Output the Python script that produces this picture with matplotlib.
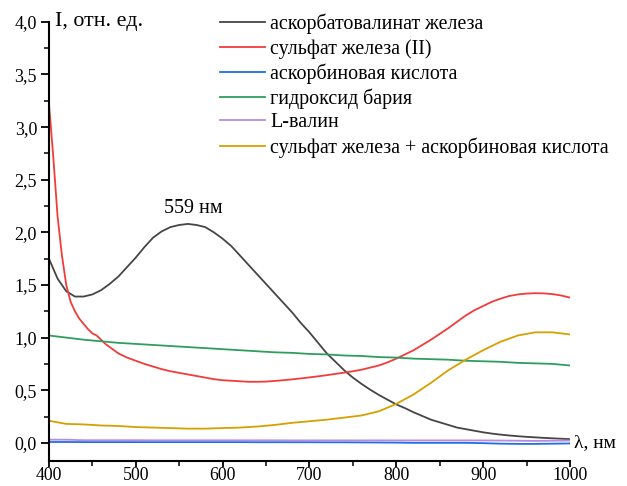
import matplotlib
matplotlib.use("Agg")
import matplotlib.pyplot as plt
from matplotlib.ticker import MultipleLocator, FuncFormatter

plt.rcParams['font.family'] = ['Liberation Serif', 'DejaVu Serif']

# --- данные спектров ---
wl_10 = list(range(400, 1001, 10))
wl_20 = list(range(400, 1001, 20))

askorbatovalinat = [1.75, 1.56, 1.44, 1.39, 1.39, 1.41, 1.45, 1.51, 1.58, 1.67,
                     1.76, 1.86, 1.95, 2.01, 2.05, 2.07, 2.08, 2.07, 2.05, 2.00,
                     1.94, 1.87, 1.78, 1.69, 1.60, 1.51, 1.42, 1.33, 1.24, 1.14,
                     1.05, 0.95, 0.85, 0.77, 0.69, 0.62, 0.56, 0.505, 0.455, 0.41,
                     0.365, 0.33, 0.29, 0.255, 0.22, 0.195, 0.17, 0.145, 0.13, 0.115,
                     0.10, 0.088, 0.078, 0.07, 0.063, 0.057, 0.052, 0.047, 0.043, 0.039,
                     0.035]

wl_sulfat = [400, 405, 410, 415, 420, 425, 430, 435, 440, 445, 450, 455, 460, 465, 470,
             480, 490, 500, 510, 520, 530, 540, 550, 560, 570, 580, 590, 600, 610, 620,
             630, 640, 650, 660, 670, 680, 690, 700, 710, 720, 730, 740, 750, 760, 770,
             780, 790, 800, 810, 820, 830, 840, 850, 860, 870, 880, 890, 900, 910, 920,
             930, 940, 950, 960, 970, 980, 990, 1000]
sulfat = [3.23, 2.72, 2.15, 1.78, 1.50, 1.34, 1.25, 1.18, 1.13, 1.08, 1.04, 1.02, 0.98, 0.94, 0.91,
          0.85, 0.81, 0.78, 0.75, 0.725, 0.70, 0.68, 0.665, 0.65, 0.635, 0.62, 0.605, 0.595, 0.59, 0.585,
          0.58, 0.58, 0.582, 0.588, 0.595, 0.603, 0.612, 0.622, 0.632, 0.643, 0.655, 0.667, 0.68, 0.695, 0.715,
          0.735, 0.765, 0.80, 0.84, 0.88, 0.93, 0.98, 1.035, 1.09, 1.15, 1.21, 1.26, 1.30, 1.34, 1.37,
          1.395, 1.41, 1.418, 1.422, 1.42, 1.413, 1.40, 1.38]

askorbinovaya = [0.008, 0.008, 0.007, 0.007, 0.007, 0.007, 0.007, 0.007, 0.007, 0.007, 0.007,
                 0.007, 0.006, 0.006, 0.006, 0.006, 0.005, 0.005, 0.004, 0.003, 0.002, 0.0,
                 0.0, 0.0, 0.0, -0.003, -0.008, -0.01, -0.01, -0.008, -0.006]

gidroksid = [1.02, 1.00, 0.98, 0.965, 0.95, 0.94, 0.93, 0.92, 0.91, 0.90, 0.89,
             0.88, 0.87, 0.86, 0.855, 0.845, 0.84, 0.83, 0.825, 0.815, 0.81, 0.80,
             0.795, 0.79, 0.78, 0.775, 0.77, 0.76, 0.755, 0.75, 0.735]

valin = [0.03, 0.03, 0.025, 0.025, 0.025, 0.025, 0.024, 0.024, 0.024, 0.024, 0.024,
         0.024, 0.024, 0.024, 0.023, 0.023, 0.023, 0.023, 0.023, 0.023, 0.023, 0.023,
         0.023, 0.023, 0.023, 0.023, 0.022, 0.02, 0.018, 0.02, 0.022]

smes = [0.21, 0.18, 0.175, 0.165, 0.16, 0.15, 0.145, 0.14, 0.135, 0.135, 0.14,
        0.145, 0.155, 0.17, 0.19, 0.205, 0.22, 0.24, 0.26, 0.30, 0.37, 0.46,
        0.57, 0.69, 0.79, 0.88, 0.96, 1.02, 1.05, 1.05, 1.03]

labels = ["аскорбатовалинат железа", "сульфат железа (II)", "аскорбиновая кислота",
          "гидроксид бария", "L-валин", "сульфат железа + аскорбиновая кислота"]
colors = ["#454545", "#f23b3b", "#1f6fe6", "#2e9e5e", "#b68be3", "#d6a000"]

# --- рисунок ---
fig = plt.figure(figsize=(6.27, 4.86), dpi=100)
ax = fig.add_axes([0.078, 0.052, 0.831, 0.903])

series = [(wl_10, askorbatovalinat), (wl_sulfat, sulfat), (wl_20, askorbinovaya),
          (wl_20, gidroksid), (wl_20, valin), (wl_20, smes)]
for (x, y), lab, c in zip(series, labels, colors):
    ax.plot(x, y, color=c, lw=1.3, label=lab)

ax.set_xlim(400, 1000)
ax.set_ylim(-0.17, 4.0)

for s in ("top", "right"):
    ax.spines[s].set_visible(False)
ax.spines["left"].set_linewidth(1.5)
ax.spines["bottom"].set_linewidth(1.5)

ax.xaxis.set_major_locator(MultipleLocator(100))
ax.xaxis.set_minor_locator(MultipleLocator(50))
ax.yaxis.set_major_locator(MultipleLocator(0.5))
ax.yaxis.set_minor_locator(MultipleLocator(0.25))
ax.yaxis.set_major_formatter(FuncFormatter(lambda v, p: f"{v:.1f}".replace(".", ",")))
ax.tick_params(which="major", direction="out", length=6, width=1.3, labelsize=13)
ax.tick_params(which="minor", direction="out", length=3.5, width=1.1)
ax.tick_params(axis="x", which="major", length=4.5, pad=0, labelsize=12.8)
ax.tick_params(axis="y", which="major", pad=2.5)

ax.text(0.012, 1.0, "I, отн. ед.", transform=ax.transAxes, fontsize=15.8,
        ha="left", va="center")
ax.text(1.008, 0.0, "λ, нм", transform=ax.get_yaxis_transform(), fontsize=14,
        ha="left", va="center")
ax.text(566, 2.23, "559 нм", fontsize=14.5, ha="center", va="center")

ax.legend(loc="upper left", bbox_to_anchor=(0.338, 0.988), bbox_transform=fig.transFigure,
          frameon=False, fontsize=14.4, handlelength=2.25, handletextpad=0.25,
          labelspacing=0.23, borderaxespad=0)

fig.savefig("out.png", dpi=100)
